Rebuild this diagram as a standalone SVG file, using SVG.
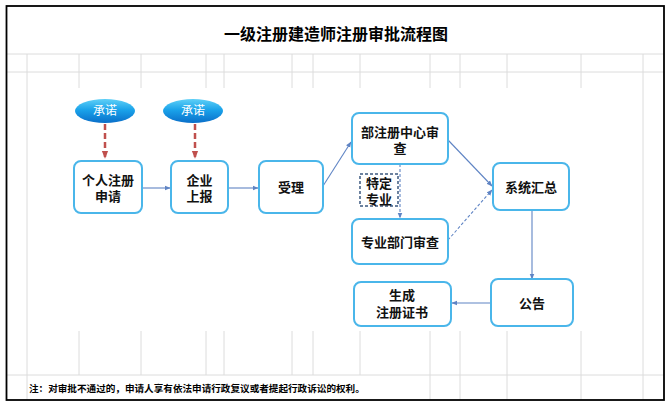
<svg xmlns="http://www.w3.org/2000/svg" width="670" height="405" viewBox="0 0 670 405">
<style>
.grid line{stroke:#dcdcdc;stroke-width:1}
.box{fill:#fff;stroke:#4ab6ea;stroke-width:2}
.t{font-family:"Liberation Sans","Noto Sans CJK SC",sans-serif;font-weight:bold;font-size:13px;fill:#111;text-anchor:middle;dominant-baseline:central}
.pt{font-family:"Liberation Sans","Noto Sans CJK SC",sans-serif;font-size:12px;fill:#fff;text-anchor:middle;dominant-baseline:central}
.c{stroke:#5f84c4;stroke-width:1.1;fill:none;marker-end:url(#ab)}
.cd{stroke:#5f84c4;stroke-width:1.1;fill:none;stroke-dasharray:3,2;marker-end:url(#ab)}
.r{stroke:#c0504d;stroke-width:2.5;fill:none;stroke-dasharray:6,3;marker-end:url(#ar)}
</style>
<defs>
<marker id="ab" viewBox="0 0 10 10" refX="9" refY="5" markerWidth="6" markerHeight="6" markerUnits="userSpaceOnUse" orient="auto"><path d="M0,1 L10,5 L0,9 z" fill="#5f84c4"/></marker>
<marker id="ar" viewBox="0 0 10 10" refX="9" refY="5" markerWidth="8" markerHeight="8" markerUnits="userSpaceOnUse" orient="auto"><path d="M0,1 L10,5 L0,9 z" fill="#c0504d"/></marker>
<linearGradient id="eg" x1="0" y1="0" x2="0" y2="1">
<stop offset="0" stop-color="#5fd0f7"/>
<stop offset="0.45" stop-color="#1aa3ea"/>
<stop offset="1" stop-color="#0a6fc9"/>
</linearGradient>
</defs>
<rect x="0" y="0" width="670" height="405" fill="#fff"/>
<g class="grid">
<line x1="7" y1="54" x2="664" y2="54"/>
<line x1="7" y1="72" x2="664" y2="72"/>
<line x1="7" y1="375" x2="664" y2="375"/>
<line x1="27" y1="54" x2="27" y2="400"/>
<line x1="79" y1="54" x2="79" y2="375"/>
<line x1="141" y1="54" x2="141" y2="375"/>
<line x1="206" y1="54" x2="206" y2="375"/>
<line x1="224" y1="54" x2="224" y2="375"/>
<line x1="292" y1="54" x2="292" y2="375"/>
<line x1="313" y1="54" x2="313" y2="375"/>
<line x1="360" y1="54" x2="360" y2="375"/>
<line x1="430" y1="54" x2="430" y2="400"/>
<line x1="460" y1="54" x2="460" y2="400"/>
<line x1="507" y1="54" x2="507" y2="400"/>
<line x1="581" y1="54" x2="581" y2="400"/>
<line x1="643" y1="54" x2="643" y2="400"/>
</g>
<rect x="28" y="88" width="614" height="243" fill="#fff"/>
<rect x="6.5" y="6" width="657.5" height="394" fill="none" stroke="#000" stroke-width="1.8"/>
<text x="336" y="33" font-family="'Noto Sans CJK SC',sans-serif" font-weight="bold" font-size="16" text-anchor="middle" dominant-baseline="central" fill="#000">一级注册建造师注册审批流程图</text>
<text x="29" y="388" font-family="'Noto Sans CJK SC',sans-serif" font-weight="bold" font-size="9.6" dominant-baseline="central" fill="#000">注：对审批不通过的，申请人享有依法申请行政复议或者提起行政诉讼的权利。</text>
<g id="connectors">
<line class="r" x1="105" y1="124" x2="105" y2="158"/>
<line class="r" x1="195" y1="124" x2="195" y2="158"/>
<line class="c" x1="142" y1="188" x2="170" y2="188"/>
<line class="c" x1="228" y1="188" x2="258" y2="188"/>
<line class="c" x1="323" y1="186" x2="351" y2="142"/>
<line class="c" x1="448" y1="140" x2="492" y2="186"/>
<line class="cd" x1="448" y1="240" x2="492" y2="190"/>
<line class="cd" x1="400" y1="164" x2="400" y2="218"/>
<line class="c" x1="532" y1="210" x2="532" y2="279"/>
<line class="c" x1="491" y1="303" x2="452" y2="303"/>
</g>
<g id="promise1"><ellipse cx="105" cy="111" rx="30" ry="12" fill="url(#eg)"/><text class="pt" x="105" y="111">承诺</text></g>
<g id="promise2"><ellipse cx="193" cy="111" rx="30" ry="12" fill="url(#eg)"/><text class="pt" x="193" y="111">承诺</text></g>
<g id="personal"><rect class="box" x="74" y="161" width="68" height="52" rx="7"/><text class="t" x="108" y="180">个人注册<tspan x="108" dy="16">申请</tspan></text></g>
<g id="enterprise"><rect class="box" x="171" y="161" width="57" height="52" rx="7"/><text class="t" x="199.5" y="180">企业<tspan x="199.5" dy="16">上报</tspan></text></g>
<g id="accept"><rect class="box" x="259" y="161" width="64" height="52" rx="7"/><text class="t" x="291" y="187">受理</text></g>
<g id="center"><rect class="box" x="352" y="113" width="96" height="51" rx="7"/><text class="t" x="400" y="132">部注册中心审<tspan x="400" dy="16">查</tspan></text></g>
<g id="special"><rect x="360" y="174" width="38" height="32" fill="#fff" stroke="#3d5a80" stroke-width="1.5" stroke-dasharray="3,2"/><text class="t" x="379" y="183">特定<tspan x="379" dy="16">专业</tspan></text></g>
<g id="dept"><rect class="box" x="352" y="219" width="96" height="45" rx="7"/><text class="t" x="400" y="242">专业部门审查</text></g>
<g id="summary"><rect class="box" x="493" y="163" width="76" height="47" rx="7"/><text class="t" x="531" y="187">系统汇总</text></g>
<g id="announce"><rect class="box" x="491" y="279" width="82" height="47" rx="7"/><text class="t" x="532" y="303">公告</text></g>
<g id="cert"><rect class="box" x="354" y="282" width="97" height="44" rx="7"/><text class="t" x="402" y="295">生成<tspan x="402" dy="17">注册证书</tspan></text></g>
</svg>
